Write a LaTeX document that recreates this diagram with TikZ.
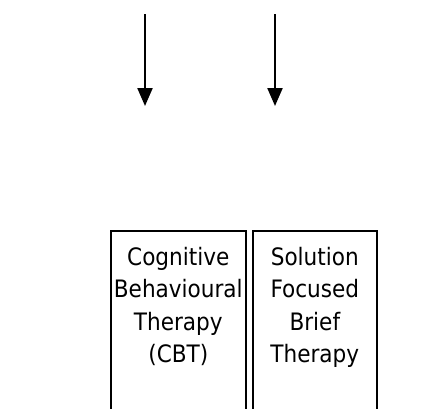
\documentclass[tikz,border=0pt]{standalone}
\usepackage{fontspec}
\setmainfont{DejaVu Sans Condensed}
\usetikzlibrary{arrows.meta, positioning}

\tikzset{
    therapy/.style={draw, line width=1.6pt, anchor=north west, minimum height=200pt, inner sep=0pt},
    therapytext/.style={align=center, inner sep=0pt, font=\fontsize{24}{32.5}\selectfont},
    flow/.style={-{Triangle[width=15pt, length=18pt]}, line width=2.2pt}
}

\begin{document}
\begin{tikzpicture}[x=1pt, y=-1pt]
\clip (0,0) rectangle (432,408);

% Arrows from above
\foreach \x/\n in {145/cbtin, 275/sfbtin} {
    \coordinate (\n top) at (\x,14);
    \coordinate (\n tip) at (\x,106);
    \draw[flow] (\n top) -- (\n tip);
}

% Boxes (bottom runs off the page)
\node[therapy, minimum width=135pt] (cbt) at (110,230) {};
\node[therapy, minimum width=124pt] (sfbt) at (252,230) {};

% Box labels
\node[therapytext, below=17pt of cbt.north] (cbtlabel)
    {Cognitive\\Behavioural\\Therapy\\(CBT)};
\node[therapytext, below=17pt of sfbt.north] (sfbtlabel)
    {Solution\\Focused\\Brief\\Therapy};
\end{tikzpicture}
\end{document}
